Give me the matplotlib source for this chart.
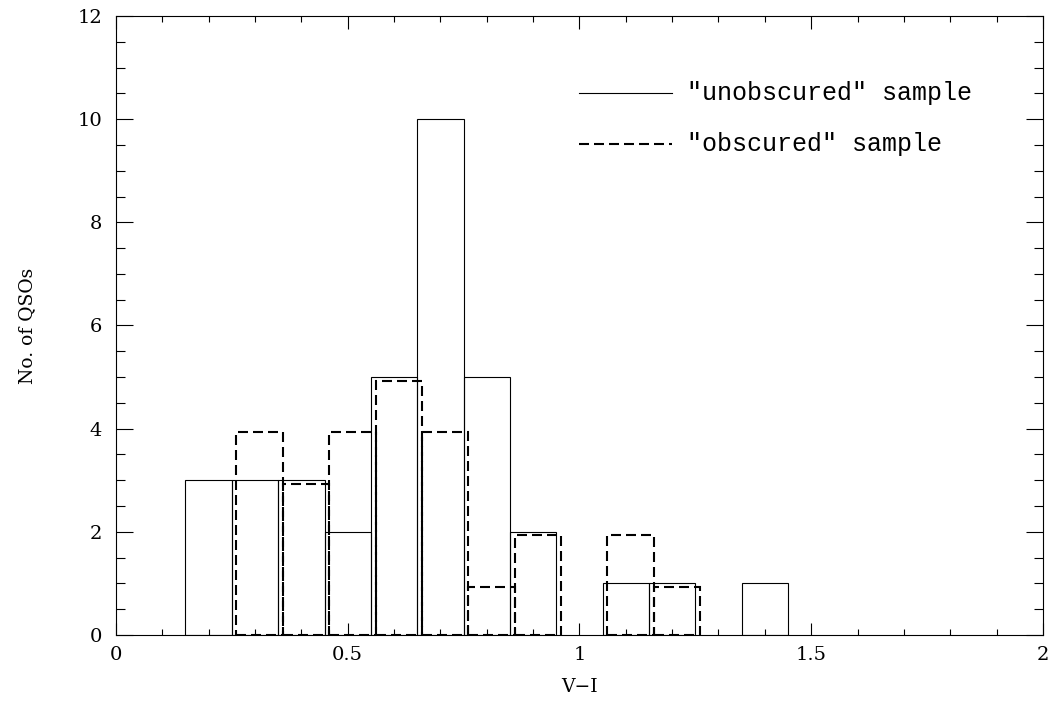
"""
Histogram of V-I colours for the "unobscured" and "obscured" QSO samples.
"""

from matplotlib import pyplot as plt
from matplotlib.ticker import MultipleLocator
import numpy as np

# bin left edges and counts
unobs_edges = [0.15, 0.25, 0.35, 0.45, 0.55, 0.65, 0.75, 0.85, 0.95, 1.05, 1.15, 1.25, 1.35]
unobs_counts = [3, 3, 3, 2, 5, 10, 5, 2, 0, 1, 1, 0, 1]

obs_edges = [0.26, 0.36, 0.46, 0.56, 0.66, 0.76, 0.86, 0.96, 1.06, 1.16]
obs_counts = [4, 3, 4, 5, 4, 1, 2, 0, 2, 1]
obs_shift = 0.07  # obscured bars drawn slightly lower so both outlines show

bin_width = 0.1

plt.rcParams['font.family'] = ['DejaVu Serif']

fig = plt.figure(figsize=(10.6, 7.03), dpi=100)
ax = fig.add_axes([0.1094, 0.0967, 0.8745, 0.8806])

# solid boxes, skipping empty bins
for x0, n in zip(unobs_edges, unobs_counts):
    if n > 0:
        ax.bar(x0, n, width=bin_width, align='edge', fill=False,
               edgecolor='k', linewidth=0.8)

# dashed boxes
for x0, n in zip(obs_edges, obs_counts):
    if n > 0:
        ax.bar(x0, n - obs_shift, width=bin_width, align='edge', fill=False,
               edgecolor='k', linewidth=1.5, linestyle=(0, (4.8, 2.4)))

# legend drawn by hand, like the original
leg_font = dict(family=['Liberation Mono', 'DejaVu Serif'], fontsize=18,
                va='center', ha='left')
ax.plot([1.0, 1.2], [10.5, 10.5], color='k', linewidth=0.8)
ax.text(1.232, 10.5, '\u2033unobscured\u2033 sample', **leg_font)
ax.plot([1.0, 1.2], [9.52, 9.52], color='k', linewidth=1.5, linestyle=(0, (4.8, 2.4)))
ax.text(1.232, 9.52, '\u2033obscured\u2033 sample', **leg_font)

ax.set_xlim(0, 2)
ax.set_ylim(0, 12)
ax.xaxis.set_major_locator(MultipleLocator(0.5))
ax.xaxis.set_minor_locator(MultipleLocator(0.1))
ax.yaxis.set_major_locator(MultipleLocator(2))
ax.yaxis.set_minor_locator(MultipleLocator(0.5))
ax.set_xticks([0, 0.5, 1, 1.5, 2])
ax.set_xticklabels(['0', '0.5', '1', '1.5', '2'])

ax.tick_params(axis='both', which='both', direction='in', top=True, right=True,
               labelsize=14, width=0.8)
ax.tick_params(axis='x', which='major', length=9, pad=8)
ax.tick_params(axis='x', which='minor', length=4.5)
ax.tick_params(axis='y', which='major', length=12, pad=10)
ax.tick_params(axis='y', which='minor', length=6.5)
for s in ax.spines.values():
    s.set_linewidth(0.8)

ax.set_xlabel('V\u2212I', fontsize=13.5, labelpad=10)
ax.set_ylabel('No. of QSOs', fontsize=13.5, labelpad=30)

fig.savefig('out.png', dpi=100)
